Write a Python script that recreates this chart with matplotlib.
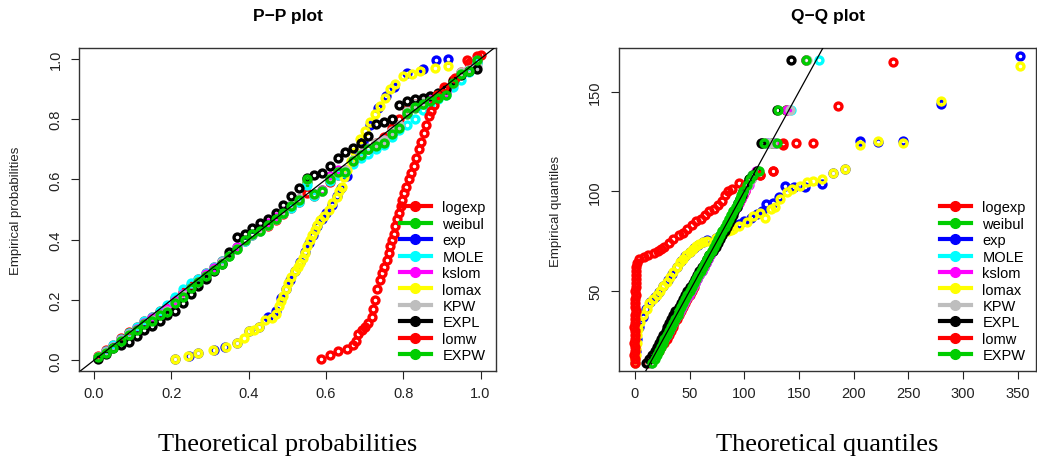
"""P-P / Q-Q comparison plots for the fitted models"""
import matplotlib
matplotlib.use("Agg")
import matplotlib.pyplot as plt
from matplotlib.lines import Line2D

plt.rcParams["font.family"] = ["Liberation Sans", "DejaVu Sans"]

MODELS = ["logexp", "weibul", "exp", "MOLE", "kslom", "lomax", "KPW", "EXPL", "lomw", "EXPW"]
COLORS = ["#FF0000", "#00CD00", "#0000FF", "#00FFFF", "#FF00FF",
          "#FFFF00", "#BEBEBE", "#000000", "#FF0000", "#00CD00"]

# ---------------- P-P data ----------------
pp_grid = [0.01, 0.03, 0.05, 0.07, 0.09, 0.11, 0.13, 0.15, 0.17, 0.19,
           0.21, 0.23, 0.25, 0.27, 0.29, 0.31, 0.33, 0.35, 0.37, 0.39,
           0.41, 0.43, 0.45, 0.47, 0.49, 0.51, 0.53, 0.55, 0.57, 0.59,
           0.61, 0.63, 0.65, 0.67, 0.69, 0.71, 0.73, 0.75, 0.77, 0.79,
           0.81, 0.83, 0.85, 0.87, 0.89, 0.91, 0.93, 0.95, 0.97, 0.99]
pp_logexp = [0.015, 0.035, 0.05, 0.075, 0.095, 0.11, 0.13, 0.145, 0.165, 0.18,
             0.205, 0.225, 0.25, 0.27, 0.29, 0.31, 0.33, 0.35, 0.375, 0.40,
             0.415, 0.43, 0.445, 0.465, 0.485, 0.505, 0.525, 0.555, 0.545, 0.56,
             0.59, 0.615, 0.63, 0.66, 0.68, 0.70, 0.72, 0.74, 0.77, 0.80,
             0.83, 0.85, 0.86, 0.87, 0.88, 0.90, 0.93, 0.955, 0.985, 1.01]
pp_weibul = [0.012, 0.028, 0.045, 0.065, 0.09, 0.105, 0.12, 0.135, 0.15, 0.165,
             0.19, 0.215, 0.24, 0.26, 0.285, 0.30, 0.325, 0.345, 0.37, 0.395,
             0.42, 0.435, 0.45, 0.47, 0.49, 0.51, 0.535, 0.59, 0.55, 0.565,
             0.60, 0.62, 0.63, 0.66, 0.68, 0.70, 0.715, 0.725, 0.75, 0.775,
             0.815, 0.835, 0.85, 0.86, 0.875, 0.885, 0.915, 0.95, 0.965, 0.99]
pp_mole = [0.012, 0.03, 0.05, 0.07, 0.09, 0.11, 0.13, 0.145, 0.165, 0.185,
           0.21, 0.235, 0.255, 0.27, 0.29, 0.31, 0.33, 0.35, 0.375, 0.395,
           0.415, 0.43, 0.45, 0.47, 0.49, 0.505, 0.525, 0.58, 0.545, 0.56,
           0.595, 0.615, 0.62, 0.65, 0.67, 0.685, 0.70, 0.715, 0.74, 0.765,
           0.78, 0.80, 0.83, 0.85, 0.865, 0.88, 0.905, 0.93, 0.955, 0.985]
pp_kslom = [0.01, 0.028, 0.045, 0.068, 0.088, 0.105, 0.125, 0.14, 0.155, 0.17,
            0.195, 0.22, 0.24, 0.26, 0.285, 0.305, 0.325, 0.35, 0.375, 0.40,
            0.42, 0.435, 0.455, 0.475, 0.495, 0.515, 0.535, 0.60, 0.55, 0.565,
            0.61, 0.63, 0.63, 0.66, 0.685, 0.70, 0.715, 0.73, 0.755, 0.775,
            0.82, 0.84, 0.855, 0.865, 0.875, 0.89, 0.92, 0.95, 0.965, 0.995]
pp_kpw = [0.01, 0.027, 0.045, 0.066, 0.087, 0.10, 0.12, 0.135, 0.15, 0.165,
          0.19, 0.215, 0.24, 0.26, 0.28, 0.30, 0.325, 0.35, 0.37, 0.40,
          0.42, 0.435, 0.45, 0.47, 0.495, 0.515, 0.535, 0.60, 0.55, 0.56,
          0.605, 0.625, 0.63, 0.665, 0.685, 0.705, 0.72, 0.73, 0.76, 0.78,
          0.825, 0.85, 0.86, 0.875, 0.88, 0.895, 0.92, 0.955, 0.965, 0.975]
pp_expl = [0.005, 0.02, 0.04, 0.05, 0.06, 0.08, 0.10, 0.115, 0.13, 0.15,
           0.165, 0.19, 0.22, 0.245, 0.27, 0.295, 0.32, 0.36, 0.41, 0.42,
           0.44, 0.455, 0.47, 0.49, 0.515, 0.545, 0.57, 0.605, 0.615, 0.62,
           0.645, 0.67, 0.69, 0.705, 0.72, 0.745, 0.785, 0.79, 0.80, 0.845,
           0.86, 0.865, 0.87, 0.875, 0.885, 0.90, 0.925, 0.945, 0.96, 0.965]
pp_expw = [0.01, 0.025, 0.04, 0.065, 0.085, 0.10, 0.12, 0.13, 0.15, 0.16,
           0.19, 0.21, 0.24, 0.26, 0.28, 0.30, 0.32, 0.345, 0.37, 0.40,
           0.42, 0.43, 0.45, 0.47, 0.49, 0.51, 0.53, 0.60, 0.55, 0.56,
           0.60, 0.625, 0.625, 0.66, 0.68, 0.70, 0.71, 0.72, 0.75, 0.77,
           0.82, 0.84, 0.85, 0.86, 0.87, 0.88, 0.92, 0.95, 0.96, 0.995]

pp_exp_x = [0.21, 0.245, 0.27, 0.31, 0.34, 0.37, 0.40, 0.427, 0.45, 0.47,
            0.485, 0.497, 0.508, 0.52, 0.533, 0.546, 0.556, 0.566, 0.578, 0.59,
            0.60, 0.615, 0.628, 0.64, 0.655, 0.675, 0.695, 0.715, 0.735, 0.755,
            0.775, 0.81, 0.85, 0.885, 0.915]
pp_exp_y = [0.004, 0.015, 0.024, 0.034, 0.045, 0.058, 0.096, 0.11, 0.145, 0.165,
            0.205, 0.235, 0.265, 0.295, 0.325, 0.36, 0.39, 0.415, 0.445, 0.47,
            0.49, 0.515, 0.545, 0.57, 0.61, 0.67, 0.725, 0.78, 0.835, 0.875,
            0.905, 0.952, 0.965, 0.995, 1.0]
pp_lomax_x = [0.21, 0.243, 0.268, 0.309, 0.341, 0.371, 0.387, 0.40, 0.415, 0.427,
              0.443, 0.46, 0.47, 0.478, 0.485, 0.49, 0.497, 0.503, 0.51, 0.52,
              0.527, 0.533, 0.54, 0.546, 0.552, 0.559, 0.565, 0.572, 0.578, 0.585,
              0.595, 0.607, 0.617, 0.628, 0.635, 0.641, 0.646, 0.655, 0.665, 0.675,
              0.689, 0.70, 0.714, 0.727, 0.74, 0.753, 0.766, 0.78, 0.80, 0.822,
              0.844, 0.883, 0.916]
pp_lomax_y = [0.004, 0.015, 0.024, 0.034, 0.045, 0.058, 0.074, 0.096, 0.10, 0.11,
              0.133, 0.14, 0.155, 0.18, 0.195, 0.213, 0.235, 0.257, 0.275, 0.296,
              0.31, 0.323, 0.34, 0.356, 0.38, 0.40, 0.415, 0.432, 0.45, 0.465,
              0.48, 0.498, 0.52, 0.542, 0.56, 0.575, 0.608, 0.63, 0.66, 0.69,
              0.733, 0.76, 0.79, 0.815, 0.843, 0.87, 0.90, 0.915, 0.943, 0.95,
              0.96, 0.97, 0.975]
pp_lomw_x = [0.588, 0.61, 0.632, 0.654, 0.671, 0.678, 0.684, 0.693, 0.701, 0.709,
             0.718, 0.722, 0.727, 0.733, 0.74, 0.745, 0.75, 0.757, 0.762, 0.767,
             0.771, 0.775, 0.78, 0.784, 0.789, 0.793, 0.797, 0.803, 0.808, 0.814,
             0.82, 0.827, 0.833, 0.84, 0.846, 0.853, 0.86, 0.866, 0.872, 0.879,
             0.887, 0.905, 0.935, 0.965, 1.0]
pp_lomw_y = [0.004, 0.016, 0.03, 0.036, 0.05, 0.065, 0.088, 0.10, 0.11, 0.125,
             0.143, 0.17, 0.20, 0.235, 0.267, 0.29, 0.31, 0.333, 0.355, 0.38,
             0.40, 0.42, 0.445, 0.467, 0.49, 0.51, 0.532, 0.555, 0.575, 0.60,
             0.62, 0.645, 0.67, 0.70, 0.725, 0.755, 0.78, 0.81, 0.825, 0.845,
             0.88, 0.905, 0.935, 0.995, 1.013]

# ---------------- Q-Q data ----------------
qq_emp = [14, 16, 18, 20, 22, 24, 26, 28, 30, 32,
          34, 36, 38, 40, 42, 44, 46, 48, 50, 52,
          54, 56, 58, 60, 62, 64, 66, 68, 70, 72,
          74, 76, 78, 80, 82, 84, 86, 88, 90, 92,
          94, 96, 98, 100, 103, 106, 108, 110, 124, 124, 141, 166]
qq_logexp = [12, 16, 19, 22, 24, 27, 29, 31, 33, 35,
             36, 38, 40, 42, 44, 46, 48, 50, 52, 54,
             55, 57, 59, 61, 63, 65, 67, 69, 71, 73,
             75, 77, 79, 81, 83, 85, 87, 89, 91, 93,
             95, 97, 99, 101, 103, 106, 114, 126, 135, 125, 138, 156]
qq_weibul = [15, 17, 19, 21, 23, 25, 27, 29, 31, 33,
             35, 37, 38, 40, 42, 44, 46, 48, 50, 52,
             54, 56, 58, 60, 62, 64, 66, 68, 70, 72,
             74, 76, 78, 80, 82, 84, 86, 88, 90, 92,
             94, 96, 98, 100, 102, 104, 107, 112, 120, 125, 138, 156]
qq_mole = [15, 17, 19, 21, 23, 25, 27, 29, 31, 33,
           35, 37, 39, 41, 43, 45, 47, 49, 51, 53,
           55, 57, 59, 61, 63, 65, 67, 69, 71, 73,
           75, 77, 79, 81, 83, 85, 87, 89, 91, 93,
           94, 96, 98, 100, 103, 105, 108, 112, 122, 128, 143, 168]
qq_kslom = [15, 17, 19, 21, 23, 25, 27, 29, 31, 33,
            35, 37, 39, 41, 43, 45, 47, 49, 51, 53,
            55, 57, 59, 61, 63, 65, 67, 69, 71, 73,
            75, 77, 79, 81, 83, 85, 87, 89, 91, 93,
            95, 97, 99, 101, 104, 106, 108, 111, 128, 121, 139, 156]
qq_kpw = [14, 16, 18, 20, 22, 24, 26, 28, 30, 32,
          34, 36, 38, 40, 42, 44, 46, 48, 50, 52,
          54, 56, 58, 60, 62, 64, 66, 68, 70, 72,
          74, 76, 78, 80, 82, 84, 86, 88, 90, 92,
          94, 96, 98, 100, 103, 106, 109, 113, 125, 121, 142, 157]
qq_expl = [10, 13, 16, 18, 20, 22, 24, 26, 28, 29,
           31, 33, 35, 37, 40, 42, 44, 46, 48, 50,
           53, 55, 57, 59, 61, 64, 66, 68, 71, 74,
           76, 78, 80, 82, 84, 86, 88, 90, 91, 93,
           94, 96, 98, 99, 101, 104, 108, 112, 115, 116, 130, 143]
qq_expw = [16, 18, 20, 22, 24, 26, 27, 29, 31, 33,
           35, 37, 39, 40, 42, 44, 46, 48, 50, 52,
           54, 56, 58, 60, 62, 64, 66, 68, 70, 72,
           74, 76, 78, 80, 82, 84, 86, 88, 90, 92,
           94, 96, 97, 99, 102, 105, 108, 113, 118, 130, 131, 156]

qq_exp_x = [0, 1, 2, 4, 7, 10, 14, 18, 22, 26,
            30, 34, 38, 42, 46, 50, 54, 58, 62, 66,
            74, 80, 86, 90, 95, 100, 106, 112, 116, 120,
            126, 132, 137, 145, 155.4, 170.6, 181.3, 192, 205.7, 222.5,
            245.3, 279.5, 352]
qq_exp_y = [14, 20, 26, 32, 37, 41, 44.5, 47, 49.5, 52.5,
            55.5, 58.5, 62, 65, 67.3, 69.4, 71.3, 73.2, 74.4, 75.5,
            76.5, 79, 81, 82, 83.5, 85, 86.5, 88.5, 90, 93.5,
            94, 97, 102.7, 101.9, 101.9, 103.4, 109.4, 111, 125, 124.8,
            125, 144, 167.6]
qq_lomax_x = [0, 0, 0.5, 1, 1.5, 2, 3, 4.6, 7, 10.7,
              13, 16.8, 20, 23, 26, 29, 32, 35, 38, 41,
              44, 47, 50, 53, 56, 59, 62, 65.5, 74, 80,
              85, 88, 89.9, 95, 102, 108, 114, 119, 124, 128,
              132.5, 138.6, 143.2, 150.8, 156.9, 163, 170.6, 181.3, 192, 205.7,
              222.5, 245.3, 279.5, 352]
qq_lomax_y = [14, 16, 18, 21, 24, 27.7, 31, 34.3, 38, 41,
              44, 46, 48, 50, 52.6, 54.5, 57, 59.3, 62, 64.4,
              66, 68, 69.4, 71, 72.7, 73.5, 74.4, 75, 76.5, 78,
              80, 80.5, 81, 82.7, 84.5, 87.6, 89.3, 86.8, 91, 91.9,
              96, 99.4, 101, 102.7, 104.4, 105.2, 106, 109.4, 111, 123.4,
              125, 124.2, 145.5, 163]
qq_lomw_x = [0, 0, -1, 0, 0, -1, 0, 0, 0, -1,
             0, 0, 0, 1, 0, 0, 0, 1, 0, 1,
             1, 1, 1, 1, 1, 2, 4, 8, 12, 17,
             21, 24, 27, 31, 35, 40, 44, 48, 52, 56,
             60, 64, 68, 72, 76, 80, 82, 85, 89, 95,
             114, 126, 135, 147, 163, 186, 236]
qq_lomw_y = [14, 16, 18, 20, 22, 24, 26, 28, 30, 32,
             34, 36, 38, 40, 42, 44, 46, 48, 50, 52,
             54, 56, 58, 60, 62, 64, 66, 67, 68, 69,
             70, 71, 72, 74, 76, 78, 79, 81, 83, 85,
             86, 88, 90, 91, 93, 95, 98, 100, 101, 104,
             108, 110, 123, 124, 124, 143, 165]

PP_SERIES = [(pp_grid, pp_logexp), (pp_grid, pp_weibul), (pp_exp_x, pp_exp_y),
             (pp_grid, pp_mole), (pp_grid, pp_kslom), (pp_lomax_x, pp_lomax_y),
             (pp_grid, pp_kpw), (pp_grid, pp_expl), (pp_lomw_x, pp_lomw_y),
             (pp_grid, pp_expw)]
QQ_SERIES = [(qq_logexp, qq_emp), (qq_weibul, qq_emp), (qq_exp_x, qq_exp_y),
             (qq_mole, qq_emp), (qq_kslom, qq_emp), (qq_lomax_x, qq_lomax_y),
             (qq_kpw, qq_emp), (qq_expl, qq_emp), (qq_lomw_x, qq_lomw_y),
             (qq_expw, qq_emp)]


def draw_panel(ax, series, xlim, ylim, xticks, yticks, ticklabels_x, ticklabels_y):
    for (xs, ys), col in zip(series, COLORS):
        ax.plot(xs, ys, "o", ms=5, mew=2.4, mfc="none", mec=col, ls="none")
    ax.axline((0, 0), slope=1, color="black", lw=0.9, zorder=5)
    ax.set_xlim(*xlim)
    ax.set_ylim(*ylim)
    ax.set_xticks(xticks)
    ax.set_xticklabels(ticklabels_x)
    ax.set_yticks(yticks)
    ax.set_yticklabels(ticklabels_y, rotation=90, va="center")
    ax.tick_params(length=6, width=0.8, labelsize=10.5, colors="#222222")
    ax.tick_params(axis="x", pad=5)
    ax.tick_params(axis="y", pad=6)
    for s in ax.spines.values():
        s.set_linewidth(1.0)
        s.set_color("#333333")
    handles = [Line2D([], [], color=c, lw=3, marker="o", ms=7) for c in COLORS]
    ax.legend(handles, MODELS, loc="upper left", bbox_to_anchor=(0.77, 0.528),
              frameon=False, fontsize=10.5, handlelength=2.1, handletextpad=0.8,
              labelspacing=0.165, borderpad=0, borderaxespad=0)


fig = plt.figure(figsize=(10.37, 4.6), dpi=100)
ax1 = fig.add_axes([79.3 / 1037, 88.3 / 460, 416.7 / 1037, 322.4 / 460])
ax2 = fig.add_axes([619 / 1037, 88.3 / 460, 417 / 1037, 322.4 / 460])

pp_ticks = [0.0, 0.2, 0.4, 0.6, 0.8, 1.0]
pp_labels = ["0.0", "0.2", "0.4", "0.6", "0.8", "1.0"]
draw_panel(ax1, PP_SERIES, (-0.038, 1.04), (-0.0345, 1.0345),
           pp_ticks, pp_ticks, pp_labels, pp_labels)
draw_panel(ax2, QQ_SERIES, (-14.6, 366.7), (10.0, 171.7),
           [0, 50, 100, 150, 200, 250, 300, 350], [50, 100, 150],
           ["0", "50", "100", "150", "200", "250", "300", "350"], ["50", "100", "150"])

fig.text(288 / 1037, 1 - 16 / 460, "P\u2212P plot", ha="center", va="center",
         fontsize=12.5, fontweight="bold")
fig.text(828 / 1037, 1 - 16 / 460, "Q\u2212Q plot", ha="center", va="center",
         fontsize=12.5, fontweight="bold")
fig.text(16 / 1037, 1 - 211 / 460, "Empirical probabilities", rotation=90,
         ha="center", va="center", fontsize=9.5, color="#222222")
fig.text(556 / 1037, 1 - 211 / 460, "Empirical quantiles", rotation=90,
         ha="center", va="center", fontsize=9.5, color="#222222")
fig.text(288 / 1037, 1 - 445 / 460, "Theoretical probabilities", ha="center",
         va="center", fontsize=19, family=["Liberation Serif", "DejaVu Serif"])
fig.text(827.5 / 1037, 1 - 445 / 460, "Theoretical quantiles", ha="center",
         va="center", fontsize=19, family=["Liberation Serif", "DejaVu Serif"])

plt.savefig("out.png", dpi=100)
plt.close()
